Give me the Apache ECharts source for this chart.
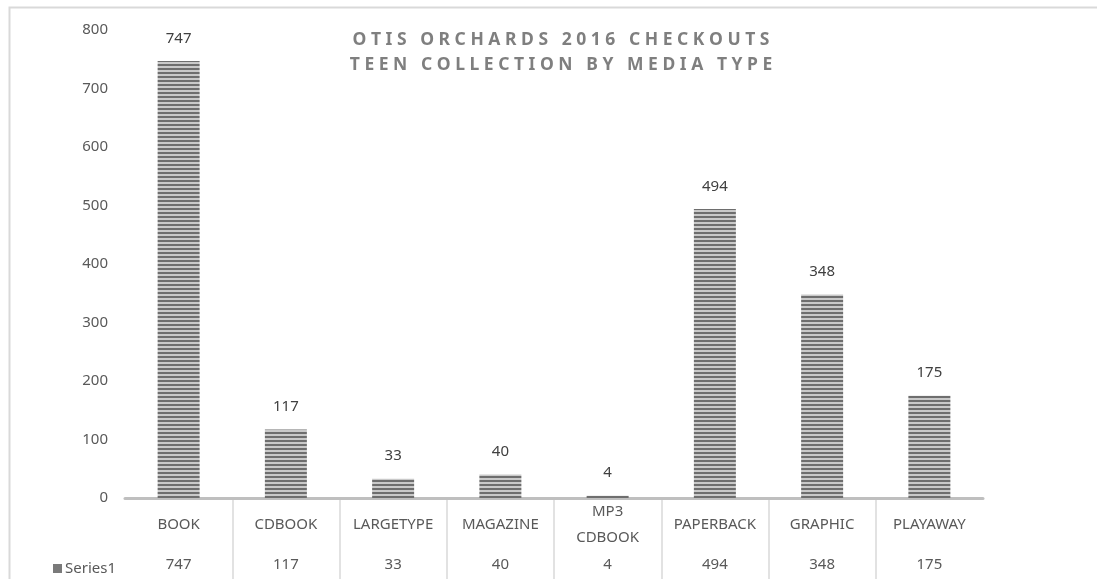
<!DOCTYPE html>
<html>
<head>
<meta charset="UTF-8">
<title>Otis Orchards 2016 Checkouts</title>
<script src="https://cdn.jsdelivr.net/npm/echarts@6/dist/echarts.min.js"></script>
<style>
    html, body { margin: 0; padding: 0; background: #fff; }
    #main { width: 1097px; height: 579px; }
</style>
</head>
<body>
<div id="main"></div>
<script>
    var categories = ['BOOK', 'CDBOOK', 'LARGETYPE', 'MAGAZINE', 'MP3\nCDBOOK', 'PAPERBACK', 'GRAPHIC', 'PLAYAWAY'];
    var series1 = [747, 117, 33, 40, 4, 494, 348, 175];
    var yTicks = [0, 100, 200, 300, 400, 500, 600, 700, 800];
    var titleLines = ['OTIS ORCHARDS 2016 CHECKOUTS', 'TEEN COLLECTION BY MEDIA TYPE'];

    // no letterSpacing in zrender, so spread the letters out by hand
    function spaced(s) {
        return s.split('').join(' ');
    }

    // striped fill for the bars
    var pat = document.createElement('canvas');
    pat.width = 4; pat.height = 4;
    var pc = pat.getContext('2d');
    pc.fillStyle = '#c9c9c9';
    pc.fillRect(0, 0, 4, 4);
    pc.fillStyle = '#6e6e6e';
    pc.fillRect(0, 0, 4, 2);

    var font = 'Noto Sans';
    var chart = echarts.init(document.getElementById('main'));
    chart.setOption({
        animation: false,
        title: {
            text: titleLines.map(spaced).join('\n'),
            left: 556, top: 23, textAlign: 'center',
            textStyle: { fontFamily: font, fontSize: 17.5, fontWeight: 'bold', color: '#7f7f7f', lineHeight: 25 }
        },
        legend: {
            data: ['Series1'], left: 48, top: 556,
            icon: 'rect', itemWidth: 9, itemHeight: 9, itemGap: 4,
            itemStyle: { color: '#7a7a7a' },
            textStyle: { fontFamily: font, fontSize: 15, color: '#595959', padding: [0, 0, 0, -2] }
        },
        graphic: [{
            type: 'rect', left: 7, top: 5, silent: true,
            shape: { width: 1200, height: 700 },
            style: { fill: 'none', stroke: '#d9d9d9', lineWidth: 2 }
        }],
        grid: [
            { left: 125, right: 114, top: 30, bottom: 81 },
            // data table area under the axis, only used for the column dividers
            { left: 125, right: 114, top: 499, bottom: -10 }
        ],
        xAxis: [{
            type: 'category', data: categories, position: 'bottom',
            axisLine: { lineStyle: { color: '#bfbfbf', width: 3 } },
            axisTick: { show: false },
            axisLabel: { margin: 27, verticalAlign: 'middle', fontFamily: font, fontSize: 15, color: '#595959', lineHeight: 26 }
        }, {
            type: 'category', data: categories, position: 'bottom',
            axisLine: { show: false }, axisTick: { show: false },
            axisLabel: {
                margin: 67, verticalAlign: 'middle', fontFamily: font, fontSize: 15, color: '#595959',
                formatter: function (v, i) { return String(series1[i]); }
            }
        }, {
            type: 'category', data: categories, gridIndex: 1,
            axisLine: { show: false }, axisTick: { show: false }, axisLabel: { show: false },
            splitLine: { show: true, showMinLine: false, showMaxLine: false, lineStyle: { color: '#d9d9d9', width: 1.5 } }
        }],
        yAxis: [{
            type: 'value', min: yTicks[0], max: yTicks[yTicks.length - 1], interval: 100,
            axisLine: { show: false }, axisTick: { show: false }, splitLine: { show: false },
            axisLabel: { margin: 17, fontFamily: font, fontSize: 15, color: '#595959' }
        }, {
            type: 'value', gridIndex: 1, show: false
        }],
        series: [{
            name: 'Series1', type: 'bar', data: series1, barWidth: 42,
            itemStyle: { color: { image: pat, repeat: 'repeat' } },
            label: { show: true, position: 'top', distance: 15, fontFamily: font, fontSize: 15, color: '#404040' }
        }]
    });
</script>
</body>
</html>
